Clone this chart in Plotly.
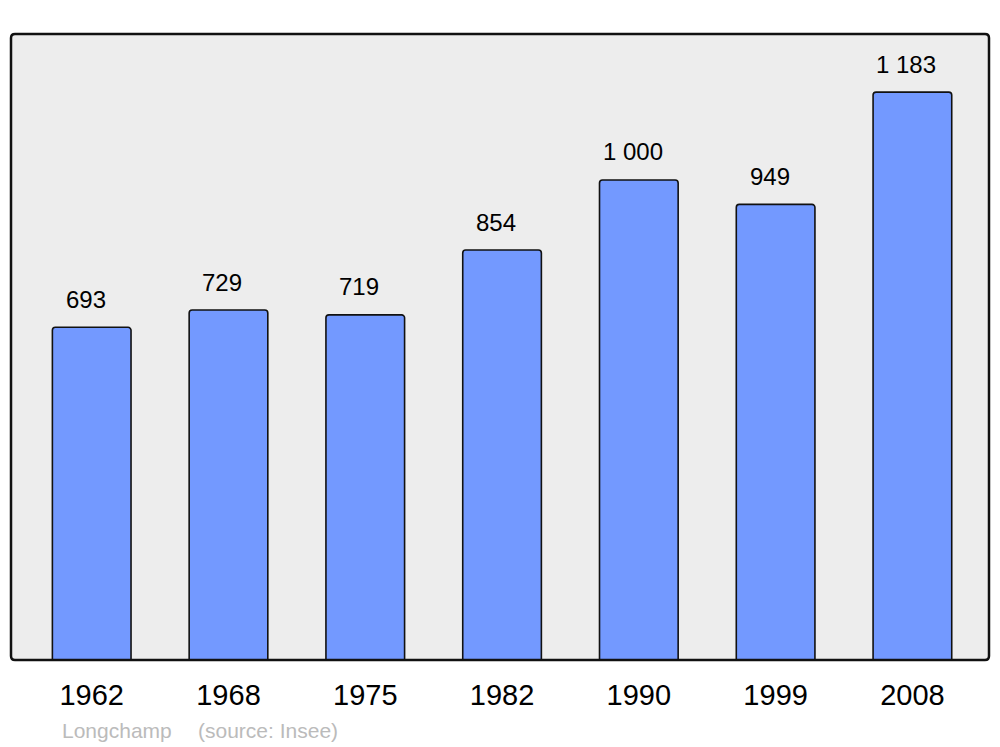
import plotly.graph_objects as go

years = ["1962", "1968", "1975", "1982", "1990", "1999", "2008"]
population = [693, 729, 719, 854, 1000, 949, 1183]
value_labels = ["693", "729", "719", "854", "1 000", "949", "1 183"]
commune = "Longchamp"
source = "(source: Insee)"

FONT = "Liberation Sans, Arial, sans-serif"

W, H = 1000, 747
L, R, T, B = 11, 11, 34, 87
PW, PH = W - L - R, H - T - B

fig = go.Figure()
fig.add_trace(go.Bar(
    x=years, y=population, width=0.575,
    marker=dict(color="#7399FF", line=dict(color="#111111", width=1.6), cornerradius=3),
    hoverinfo="x+y",
))

for i, (v, lab) in enumerate(zip(population, value_labels)):
    fig.add_annotation(x=i, y=v, text=lab, showarrow=False, xshift=-6, yshift=28,
                       font=dict(family=FONT, size=24, color="#000000"))

# rounded frame around plot area (paper coords)
rx, ry = 4 / PW, 4 / PH
path = (f"M {rx},0 L {1-rx},0 Q 1,0 1,{ry} L 1,{1-ry} Q 1,1 {1-rx},1 "
        f"L {rx},1 Q 0,1 0,{1-ry} L 0,{ry} Q 0,0 {rx},0 Z")
fig.add_shape(type="path", path=path, xref="paper", yref="paper",
              line=dict(color="#111111", width=2.5), layer="above")

fy = -70 / PH
fig.add_annotation(x=49 / PW, y=fy, xref="paper", yref="paper",
                   xanchor="left", yanchor="middle", text=commune, showarrow=False,
                   font=dict(family=FONT, size=21, color="#BBBBBB"))
fig.add_annotation(x=185 / PW, y=fy, xref="paper", yref="paper",
                   xanchor="left", yanchor="middle", text=source, showarrow=False,
                   font=dict(family=FONT, size=21, color="#BBBBBB"))

fig.update_layout(
    width=W, height=H,
    margin=dict(l=L, r=R, t=T, b=B),
    paper_bgcolor="#FFFFFF", plot_bgcolor="#EDEDED",
    showlegend=False,
    xaxis=dict(type="category", range=[-0.59, 6.56], showgrid=False, zeroline=False,
               showline=False, ticks="outside", ticklen=9, tickcolor="rgba(0,0,0,0)",
               tickfont=dict(family=FONT, size=29, color="#000000")),
    yaxis=dict(range=[0, 1304], showgrid=False, zeroline=False, showticklabels=False,
               showline=False),
)

fig.write_html("out.html", config={"displayModeBar": False},
               post_script="document.body.style.margin='0';document.body.style.overflow='hidden';")
